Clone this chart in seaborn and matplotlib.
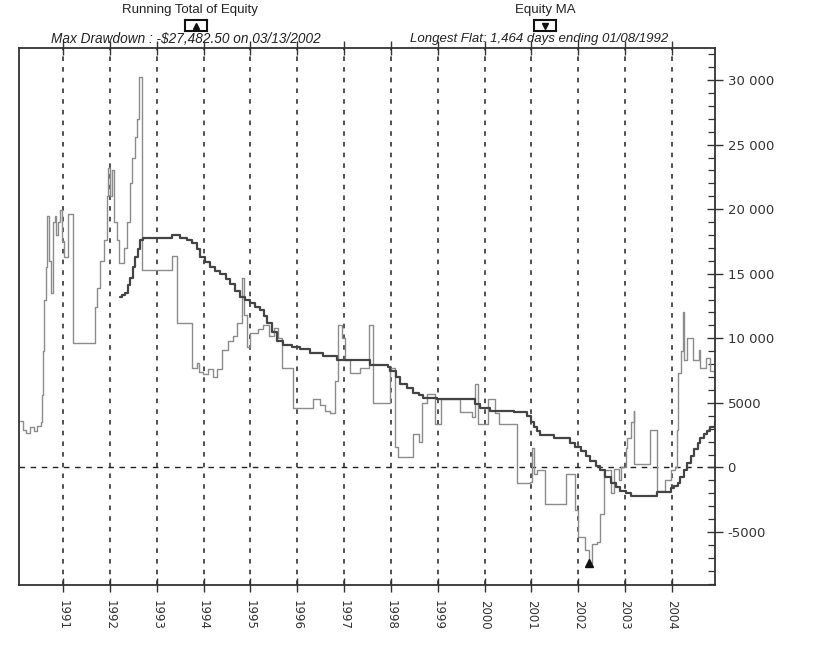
import matplotlib
matplotlib.use("Agg")
import matplotlib.pyplot as plt
import seaborn as sns
import pandas as pd
from matplotlib.ticker import MultipleLocator, FixedLocator

# ---------------- data ----------------
equity_years = [1990.08, 1990.15, 1990.22, 1990.30, 1990.38, 1990.45, 1990.52, 1990.55,
                1990.58, 1990.60, 1990.63, 1990.66, 1990.70, 1990.74, 1990.78, 1990.83,
                1990.86, 1990.90, 1990.94, 1990.98, 1991.02, 1991.11, 1991.21, 1991.68,
                1991.72, 1991.80, 1991.88, 1991.93, 1991.96, 1992.00, 1992.05, 1992.08,
                1992.15, 1992.20, 1992.30, 1992.36, 1992.42, 1992.48, 1992.54, 1992.58,
                1992.63, 1992.69, 1993.33, 1993.44, 1993.76, 1993.85, 1993.90, 1993.99,
                1994.10, 1994.20, 1994.29, 1994.40, 1994.53, 1994.63, 1994.72, 1994.82,
                1994.86, 1994.93, 1995.00, 1995.17, 1995.27, 1995.40, 1995.50, 1995.60,
                1995.68, 1995.91, 1996.34, 1996.49, 1996.60, 1996.71, 1996.81, 1996.88,
                1996.95, 1997.03, 1997.13, 1997.35, 1997.54, 1997.62, 1997.99, 1998.09,
                1998.15, 1998.48, 1998.59, 1998.67, 1998.78, 1998.95, 1999.06, 1999.48,
                1999.74, 1999.80, 1999.86, 2000.08, 2000.23, 2000.30, 2000.70, 2000.98,
                2001.02, 2001.06, 2001.12, 2001.30, 2001.73, 2001.94, 2002.00, 2002.15,
                2002.22, 2002.30, 2002.41, 2002.47, 2002.55, 2002.69, 2002.76, 2002.86,
                2002.92, 2003.02, 2003.05, 2003.12, 2003.18, 2003.20, 2003.54, 2003.69,
                2003.86, 2003.97, 2004.06, 2004.10, 2004.14, 2004.20, 2004.23, 2004.25,
                2004.33, 2004.44, 2004.57, 2004.61, 2004.72, 2004.82, 2004.93]
equity_values = [3600, 2900, 2700, 3100, 2800, 3200, 3500, 5600,
                 9000, 13000, 15500, 19500, 16000, 13500, 19000, 19500,
                 18000, 19000, 19900, 17500, 16300, 19600, 9600, 12400,
                 13900, 16000, 17600, 21000, 23200, 21000, 23000, 19000,
                 17600, 15800, 17000, 19000, 22000, 24000, 25600, 27000,
                 30200, 15300, 16400, 11200, 7700, 8100, 7400, 7200,
                 7600, 7000, 7600, 9100, 9800, 10200, 11200, 14700,
                 11800, 9300, 10400, 10700, 11000, 10200, 10800, 10000,
                 7700, 4600, 5300, 4800, 4400, 4200, 6700, 11000,
                 10000, 8300, 7300, 7700, 11000, 5000, 7700, 1550,
                 800, 2600, 2000, 5000, 5700, 3400, 5300, 4300,
                 3900, 6500, 3400, 5300, 4200, 3400, -1200, -1100,
                 1500, -500, -200, -2800, -500, -3300, -5400, -6400,
                 -7400, -5900, -5800, -3600, -200, -2000, -100, -1000,
                 0, 1500, 2300, 3500, 4400, 300, 2900, -1800,
                 -1000, -200, 0, 2900, 7300, 9000, 12000, 8300,
                 10000, 8300, 9100, 7700, 8500, 7500, 7500]

ma_years = [1992.22, 1992.27, 1992.32, 1992.38, 1992.43, 1992.49, 1992.54, 1992.60,
            1992.65, 1992.71, 1993.10, 1993.33, 1993.50, 1993.65, 1993.76, 1993.85,
            1993.93, 1994.03, 1994.14, 1994.25, 1994.36, 1994.47, 1994.57, 1994.68,
            1994.78, 1994.89, 1995.00, 1995.10, 1995.21, 1995.29, 1995.36, 1995.46,
            1995.57, 1995.70, 1995.88, 1996.06, 1996.27, 1996.56, 1996.85, 1997.27,
            1997.56, 1997.93, 1997.99, 1998.10, 1998.20, 1998.34, 1998.48, 1998.59,
            1998.69, 1998.99, 1999.70, 1999.80, 1999.91, 2000.12, 2000.63, 2000.91,
            2001.00, 2001.06, 2001.12, 2001.19, 2001.49, 2001.83, 2001.94, 2002.05,
            2002.16, 2002.26, 2002.37, 2002.47, 2002.58, 2002.69, 2002.80, 2002.90,
            2003.01, 2003.12, 2003.33, 2003.69, 2003.97, 2004.05, 2004.12, 2004.18,
            2004.25, 2004.32, 2004.40, 2004.47, 2004.55, 2004.61, 2004.68, 2004.75,
            2004.82, 2004.93]
ma_values = [13200, 13350, 13500, 14100, 14700, 15500, 16300, 16950,
             17600, 17800, 17800, 18000, 17800, 17600, 17400, 16900,
             16300, 15900, 15500, 15250, 15000, 14600, 14200, 13700,
             13200, 12950, 12700, 12450, 12200, 11700, 11200, 10500,
             9800, 9500, 9350, 9200, 8900, 8600, 8300, 8300,
             7900, 7800, 7500, 7000, 6500, 6150, 5800, 5600,
             5400, 5300, 5300, 4950, 4600, 4400, 4300, 4000,
             3550, 3100, 2800, 2500, 2300, 1900, 1600, 1300,
             900, 500, 150, -200, -700, -1200, -1500, -1800,
             -2000, -2200, -2200, -1900, -1600, -1400, -1200, -700,
             -200, 350, 900, 1400, 1900, 2250, 2600, 2850,
             3100, 3500]

year_ticks = list(range(1991, 2005))
year_labels = [str(y) for y in year_ticks]
y_ticks = [30000, 25000, 20000, 15000, 10000, 5000, 0, -5000]
y_labels = ["30 000", "25 000", "20 000", "15 000", "10 000", "5000", "0", "-5000"]

min_year = 2002.22
min_value = -7400

title_equity = "Running Total of Equity"
title_ma = "Equity MA"
note_equity = "Max Drawdown : -\\$27,482.50 on 03/13/2002"
note_ma = "Longest Flat: 1,464 days ending 01/08/1992"

# ---------------- plotting ----------------
sns.set_theme(style="white")
plt.rcParams['font.family'] = ['Liberation Sans', 'DejaVu Sans']

fig = plt.figure(figsize=(8.4, 6.45), dpi=100)
ax = fig.add_axes([0.0226, 0.093, 0.8286, 0.8330])

eq_df = pd.DataFrame({"year": equity_years, "value": equity_values})
ma_df = pd.DataFrame({"year": ma_years, "value": ma_values})

sns.lineplot(data=eq_df, x="year", y="value", ax=ax, estimator=None, sort=False,
             drawstyle="steps-post", color="#8c8c8c", linewidth=1.0)
sns.lineplot(data=ma_df, x="year", y="value", ax=ax, estimator=None, sort=False,
             drawstyle="steps-post", color="#444444", linewidth=1.6)
ax.plot([min_year], [min_value], marker="^", color="#111111", markersize=6,
        linestyle="none")

for y in year_ticks:
    ax.axvline(y, color="#222222", linestyle=(0, (3, 4)), linewidth=1.1, zorder=0)
ax.axhline(0, color="#222222", linestyle=(0, (4, 4)), linewidth=1.0, zorder=0)

ax.set_xlim(1990.06, 2004.92)
ax.set_ylim(-9100, 32500)
ax.set_xlabel("")
ax.set_ylabel("")

ax.yaxis.tick_right()
ax.yaxis.set_major_locator(FixedLocator(y_ticks))
ax.set_yticklabels(y_labels, family=["DejaVu Sans"])
ax.yaxis.set_minor_locator(MultipleLocator(1000))
ax.tick_params(axis="y", which="major", direction="inout", length=12, width=1.0,
               color="#333333", labelsize=9.5, labelcolor="#333333", pad=3,
               right=True, left=False)
ax.tick_params(axis="y", which="minor", direction="in", length=5, width=0.9,
               color="#333333", right=True, left=False)

ax.set_xticks(year_ticks)
ax.set_xticklabels(year_labels, rotation=270, family=["DejaVu Sans"])
ax.tick_params(axis="x", which="major", direction="inout", length=10, width=1.0,
               color="#333333", labelsize=8.5, labelcolor="#333333", pad=6,
               bottom=True, top=True)

for s in ax.spines.values():
    s.set_visible(True)
    s.set_color("#333333")
    s.set_linewidth(1.3)

# header
fig.text(190/840, 1 - 10/645, title_equity, ha="center", va="center", fontsize=9.5,
         color="#222222")
fig.text(545/840, 1 - 10/645, title_ma, ha="center", va="center", fontsize=9.5,
         color="#222222")
fig.text(186/840, 1 - 39/645, note_equity, ha="center", va="center", fontsize=9.8,
         style="italic", color="#222222")
fig.text(539/840, 1 - 39/645, note_ma, ha="center", va="center", fontsize=9.5,
         style="italic", color="#222222")

# legend icon boxes
for cx, mk in [(196, "^"), (545, "v")]:
    box = fig.add_axes([(cx - 11)/840, 1 - 31/645, 22/840, 11/645])
    box.set_xlim(0, 1)
    box.set_ylim(0, 1)
    box.set_xticks([])
    box.set_yticks([])
    for s in box.spines.values():
        s.set_visible(True)
        s.set_color("#111111")
        s.set_linewidth(1.5)
    box.plot([0.5], [0.45], marker=mk, color="#111111", markersize=5)

fig.savefig("out.png", dpi=100)
